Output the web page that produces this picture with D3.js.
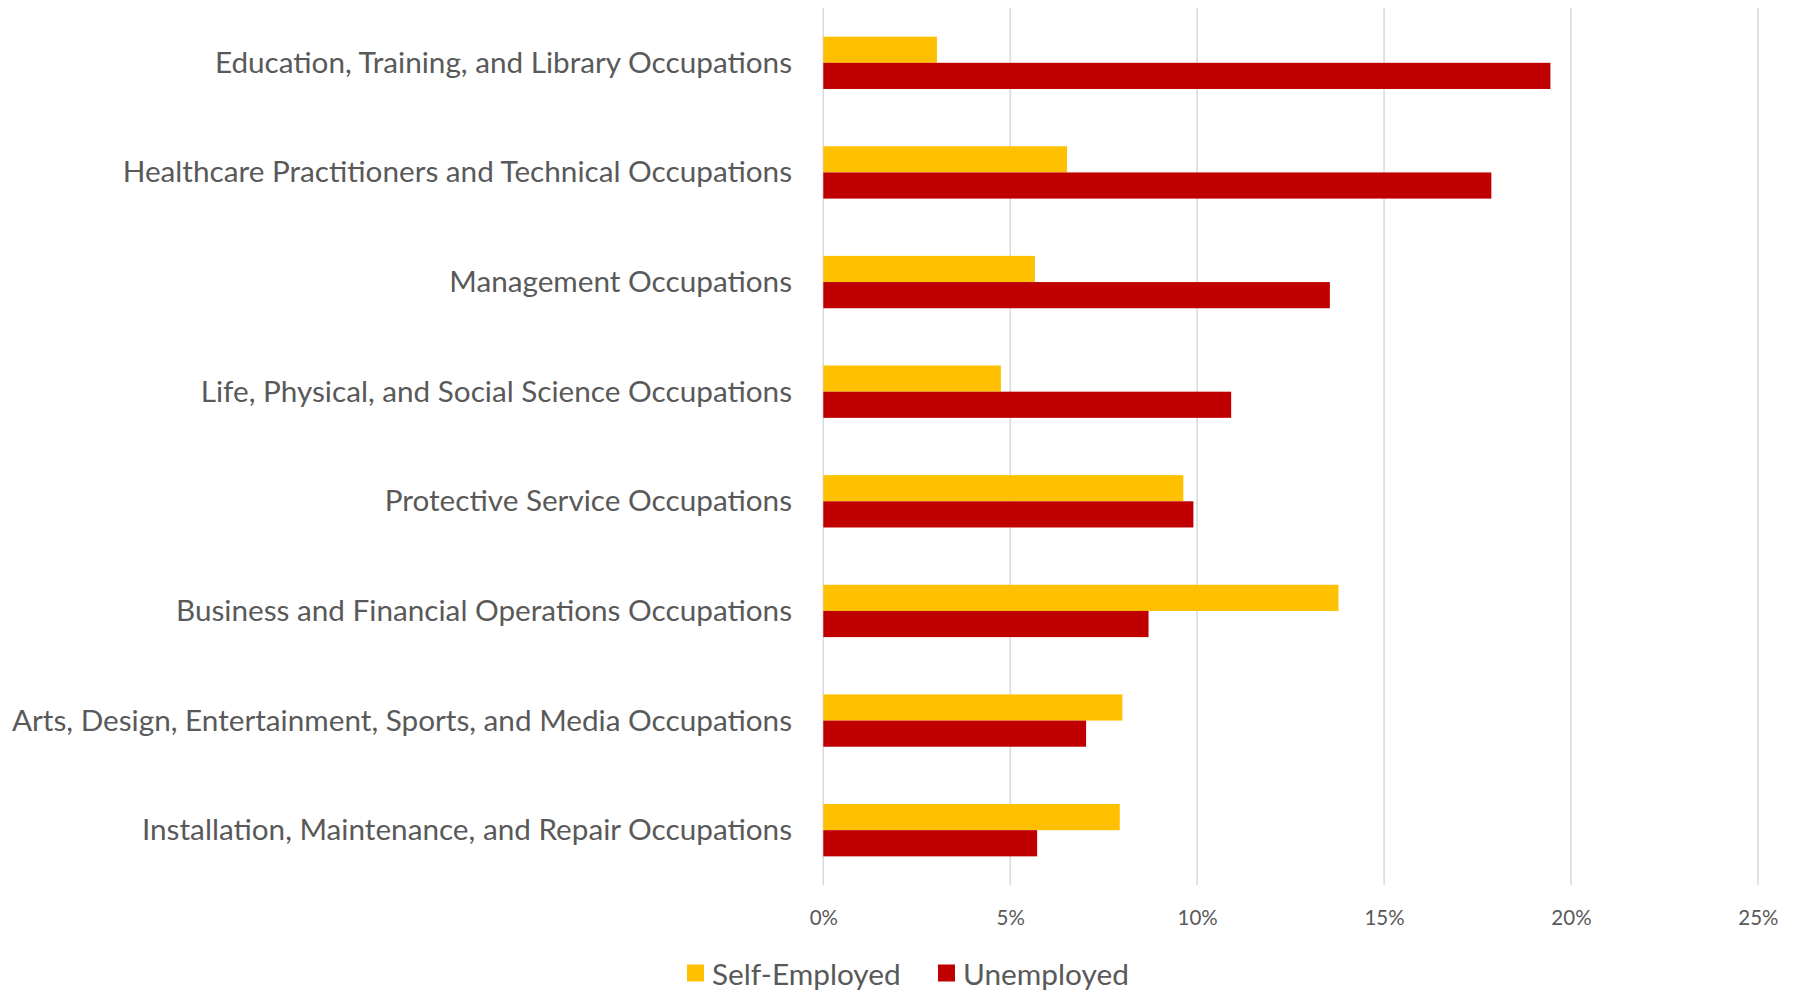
<!DOCTYPE html>
<html><head><meta charset="utf-8">
<script src="https://cdn.jsdelivr.net/npm/d3@7"></script>
<style>html,body{margin:0;padding:0;background:#fff;}svg{display:block;}</style>
</head><body>
<svg id="chart" width="1798" height="992"></svg>
<script>
const categories = [
  "Education, Training, and Library Occupations",
  "Healthcare Practitioners and Technical Occupations",
  "Management Occupations",
  "Life, Physical, and Social Science Occupations",
  "Protective Service Occupations",
  "Business and Financial Operations Occupations",
  "Arts, Design, Entertainment, Sports, and Media Occupations",
  "Installation, Maintenance, and Repair Occupations"
];
const selfEmployed = [3.04, 6.52, 5.66, 4.75, 9.63, 13.78, 8.0, 7.93];
const unemployed   = [19.45, 17.87, 13.55, 10.91, 9.90, 8.70, 7.03, 5.72];
const seriesNames = ["Self-Employed", "Unemployed"];
const tickValues = [0, 5, 10, 15, 20, 25];

const colors = ["#FFC000", "#C00000"];
const font = "Lato, 'Open Sans', sans-serif";
const textColor = "#595959";

const svg = d3.select("#chart");
const plotLeft = 823.3, plotRight = 1757.9, plotTop = 8, plotBottom = 885;

const x = d3.scaleLinear().domain([0, 25]).range([plotLeft, plotRight]);
const y = d3.scaleBand().domain(categories).range([plotTop, plotBottom])
  .paddingInner(2.19/4.19).paddingOuter(2.19/4.19/2);
const ySub = d3.scaleBand().domain(seriesNames).range([0, y.bandwidth()]);

// gridlines
svg.append("g").selectAll("line").data(tickValues).join("line")
  .attr("x1", d => x(d)).attr("x2", d => x(d))
  .attr("y1", plotTop).attr("y2", plotBottom)
  .attr("stroke", "#D9D9D9").attr("stroke-width", 1.5);

// bars
const rows = categories.map((c, i) => ({c, vals: [selfEmployed[i], unemployed[i]]}));
const g = svg.append("g").selectAll("g").data(rows).join("g")
  .attr("transform", d => `translate(0,${y(d.c)})`);
g.selectAll("rect").data(d => d.vals.map((v, j) => ({v, s: seriesNames[j], j})))
  .join("rect")
  .attr("x", x(0)).attr("y", d => ySub(d.s))
  .attr("width", d => x(d.v) - x(0)).attr("height", ySub.bandwidth())
  .attr("fill", d => colors[d.j]);

// category labels
svg.append("g").selectAll("text").data(categories).join("text")
  .attr("x", 792).attr("y", d => y(d) + y.bandwidth()/2 - 1.5)
  .attr("text-anchor", "end").attr("dominant-baseline", "central")
  .attr("font-family", font).attr("font-size", 29.7).attr("fill", textColor)
  .text(d => d);

// x-axis tick labels
const xAxis = d3.axisBottom(x).tickValues(tickValues).tickSize(0).tickPadding(0)
  .tickFormat(d => d + "%");
const ax = svg.append("g").attr("transform", `translate(0,${917})`).call(xAxis);
ax.select(".domain").remove();
ax.selectAll("text").attr("font-family", font).attr("font-size", 20.5)
  .attr("fill", textColor).attr("dy", null).attr("dominant-baseline", "central");

// legend
const legX = [687, 938];
const leg = svg.append("g").selectAll("g").data(seriesNames).join("g")
  .attr("transform", (d, i) => `translate(${legX[i]},973)`);
leg.append("rect").attr("x", 0).attr("y", -8.5).attr("width", 17).attr("height", 17)
  .attr("fill", (d, i) => colors[i]);
leg.append("text").attr("x", 25).attr("y", 0).attr("dominant-baseline", "central")
  .attr("font-family", font).attr("font-size", 29.8).attr("fill", textColor)
  .text(d => d);
</script>
</body></html>
